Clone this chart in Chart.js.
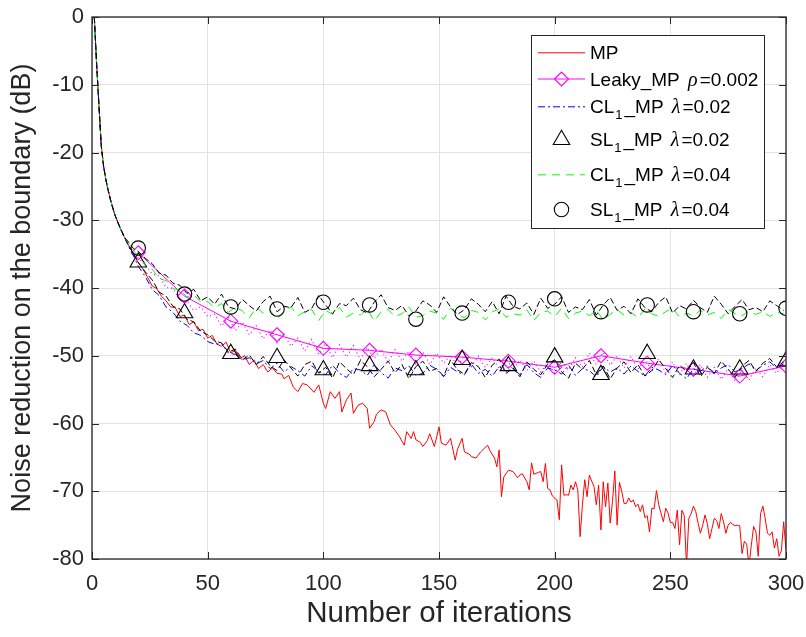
<!DOCTYPE html>
<html>
<head>
<meta charset="utf-8">
<script src="https://cdn.jsdelivr.net/npm/chart.js@4.4.1/dist/chart.umd.min.js"></script>
<style>
  html, body { margin: 0; padding: 0; background: #fff; }
  #wrap { width: 806px; height: 637px; }
</style>
</head>
<body>
<div id="wrap"><canvas id="nrChart" width="806" height="637"></canvas></div>
<script>
// iteration index of every sample (dense at the start, every 3rd after 20)
const ITER = [
    1, 2, 3, 4, 5, 6, 7, 8, 9, 10, 12, 14, 16, 18, 20,
    23, 26, 29, 32, 35, 38, 41, 44, 47, 50,
    53, 56, 59, 62, 65, 68, 71, 74, 77, 80,
    83, 86, 89, 92, 95, 98, 101, 104, 107, 110,
    113, 116, 119, 122, 125, 128, 131, 134, 137, 140,
    143, 146, 149, 152, 155, 158, 161, 164, 167, 170,
    173, 176, 179, 182, 185, 188, 191, 194, 197, 200,
    203, 206, 209, 212, 215, 218, 221, 224, 227, 230,
    233, 236, 239, 242, 245, 248, 251, 254, 257, 260,
    263, 266, 269, 272, 275, 278, 281, 284, 287, 290,
    293, 296, 299,
];
const MARK_ITER = [20, 40, 60, 80, 100, 120, 140, 160, 180, 200, 220, 240, 260, 280, 300];

const X_TICKS = [0, 50, 100, 150, 200, 250, 300];
const Y_TICKS = [-80, -70, -60, -50, -40, -30, -20, -10, 0];

// MP (red) has its own, denser sampling
const mpIter = [
    1, 2, 3, 4, 5, 6, 7, 8, 9, 10, 12, 14, 16, 18, 20,
    22, 24, 26, 28, 30, 32, 34, 36, 38, 40, 42, 44, 46, 48, 50,
    52, 54, 56, 58, 60, 62, 64, 66, 68, 70, 72, 74, 76, 78, 80,
    82, 83, 85, 87, 89, 91, 93, 96, 98, 100, 101, 103, 105, 107, 108, 110,
    112, 113, 115, 117, 119, 120, 122, 123, 125, 127, 129, 131, 133, 135, 136, 138, 139, 140,
    142, 143, 145, 146, 148, 150, 151, 153, 155, 157, 158, 160, 161, 163, 164, 166, 168,
    171, 172, 174, 175, 176, 177, 178, 180, 182, 184, 185, 186, 188, 189, 190,
    191, 193, 194, 195, 196, 197, 198, 199, 201, 202, 203, 204, 205, 206, 207, 208, 209, 210,
    211, 212, 213, 214, 215, 216, 217, 218, 219, 220, 221, 222, 223, 224, 225, 226, 227, 228, 229, 230,
    231, 232, 233, 234, 235, 236, 237, 238, 239, 240, 241, 242, 243, 244, 245, 246, 247, 248, 249, 250,
    251, 252, 253, 254, 255, 256, 257, 258, 259, 260, 261, 262, 263, 264, 265, 266, 267, 268, 269, 270,
    271, 272, 273, 274, 275, 276, 277, 278, 279, 280, 281, 282, 283, 284, 285, 286, 287, 288, 289, 290,
    291, 292, 293, 294, 295, 296, 297, 298, 299, 300,
];
const mpValues = [
    0, -7, -13, -19, -22, -24, -25.6, -27, -28.2, -29.3, -31, -32.5, -33.8, -35, -36.3,
    -37.2, -38.4, -39.7, -40.1, -41.2, -41.9, -42.8, -42.9, -44.2, -44.0, -45.4, -45.0, -46.3, -46.1, -47.4,
    -47.0, -48.3, -48.6, -48.0, -49.6, -49.2, -50.4, -50.0, -51.3, -50.6, -51.9, -51.3, -52.4, -51.8, -52.6,
    -52.7, -53.4, -52.9, -54.6, -55.3, -54.1, -54.3, -55.4, -54.3, -57.0, -57.8, -55.3, -56.3, -55.3, -58.3, -56.5,
    -55.5, -58.5, -57.3, -57.0, -57.8, -60.7, -59.7, -58.6, -58.0, -58.3, -60.2, -61.0, -62.0, -63.2, -61.2, -62.2, -61.2, -62.4,
    -62.8, -63.4, -62.5, -61.5, -63.4, -60.5, -62.9, -63.2, -62.2, -65.4, -63.8, -62.2, -64.2, -64.5, -64.9, -65.1, -64.2,
    -63.2, -64.0, -65.1, -66.4, -63.9, -70.8, -67.9, -66.9, -67.1, -68.0, -67.6, -67.4, -68.6, -69.8, -65.8,
    -67.5, -67.2, -67.1, -68.6, -65.9, -69.6, -69.8, -70.7, -71.3, -74.2, -66.1, -70.6, -70.5, -70.6, -69.1, -69.8, -68.6, -69.8,
    -76.7, -72.0, -68.3, -70.8, -67.6, -68.5, -69.3, -72.0, -69.1, -75.7, -68.6, -72.3, -68.8, -74.7, -71.5, -67.0, -75.0, -68.7, -70.0, -71.8,
    -71.8, -71.0, -71.6, -71.3, -72.3, -71.9, -73.0, -72.0, -73.9, -73.6, -76.0, -72.5, -72.6, -69.9, -72.0, -73.3, -74.5, -72.5, -73.2, -74.6,
    -74.6, -75.5, -72.8, -77.9, -72.8, -73.6, -81.0, -74.0, -73.3, -72.2, -73.0, -74.7, -76.2, -75.0, -73.5, -74.8, -77.0, -75.5, -74.0, -74.3,
    -75.5, -73.3, -74.5, -76.2, -75.0, -74.6, -74.9, -75.1, -75.0, -75.1, -79.2, -77.4, -77.8, -81.0, -78.0, -75.2, -76.0, -79.6, -73.3, -72.2,
    -74.0, -76.2, -76.5, -76.0, -78.4, -77.0, -79.6, -78.8, -74.5, -78.7,
];

// Leaky_MP rho=0.002, raw curve (dotted) and marked points
const leakyValues = [
    0, -7, -13, -19, -22, -24, -25.6, -27, -28.2, -29.3, -31, -32.5, -33.8, -34.8, -35.6,
    -36.5, -37.9, -38.2, -39.9, -40.1, -41.8, -41.9, -43.3, -42.8, -44.2,
    -43.9, -45.6, -44.4, -46.3, -45.0, -46.9, -45.6, -47.5, -46.2, -48.1,
    -46.8, -48.6, -47.4, -49.3, -47.6, -49.8, -48.2, -50.3, -48.4, -50.2,
    -48.5, -50.6, -48.8, -50.4, -49.0, -51.0, -49.1, -50.8, -49.3, -51.2,
    -49.4, -51.3, -49.6, -51.1, -49.9, -51.5, -50.0, -51.6, -50.1, -51.7,
    -50.3, -51.9, -50.4, -52.0, -50.6, -52.2, -50.8, -52.4, -51.0, -52.6,
    -50.8, -52.1, -50.3, -51.7, -49.6, -51.3, -49.5, -51.4, -50.0, -51.8,
    -50.1, -52.0, -50.4, -52.3, -50.5, -52.5, -50.9, -52.8, -51.1, -53.0,
    -51.3, -53.2, -51.7, -53.5, -51.9, -53.8, -52.1, -53.6, -51.8, -53.1,
    -51.3, -52.6, -51.0,
];
const leakyMarks = [-34.8, -41.2, -44.9, -46.9, -48.9, -49.2, -49.9, -50.2, -50.8, -51.7, -50.0, -51.1, -52.0, -53.0, -51.5];

// CL1_MP lambda=0.02 (blue)
const cl002Values = [
    0, -7, -13, -19, -22, -24, -25.6, -27, -28.2, -29.3, -31, -32.5, -34.0, -35.3, -36.8,
    -38.3, -40.2, -41.1, -42.8, -43.6, -44.9, -45.5, -46.6, -47.0, -47.9,
    -48.3, -48.2, -49.6, -49.8, -50.6, -50.3, -51.2, -50.7, -51.9, -51.1,
    -52.4, -51.6, -52.2, -53.0, -51.5, -52.3, -52.8, -51.4, -52.6, -53.2,
    -51.9, -52.1, -52.9, -51.3, -52.5, -53.3, -51.8, -52.2, -51.5, -52.9,
    -52.6, -51.4, -52.0, -53.1, -51.7, -52.4, -52.8, -51.2, -52.6, -52.0,
    -53.0, -51.6, -52.3, -51.9, -52.8, -51.3, -52.5, -53.2, -51.8, -52.1,
    -52.7, -51.4, -52.9, -51.9, -52.2, -53.1, -51.6, -52.4, -51.8, -52.7,
    -51.5, -52.3, -53.0, -51.7, -52.1, -52.8, -51.4, -52.6, -53.4, -51.9,
    -52.3, -51.5, -52.7, -51.8, -51.3, -52.4, -51.9, -51.2, -52.2, -51.4,
    -50.9, -51.8, -51.2,
];

// SL1_MP lambda=0.02 (black dashed + triangles)
const sl002Values = [
    0, -7, -13, -19, -22, -24, -25.6, -27, -28.2, -29.3, -31, -32.5, -33.8, -35.0, -36.2,
    -37.6, -38.8, -40.6, -41.2, -42.7, -43.1, -44.6, -45.0, -46.4, -46.9,
    -47.8, -48.1, -49.5, -49.0, -50.6, -49.9, -51.3, -50.1, -51.5, -52.2,
    -50.6, -51.8, -53.0, -51.3, -50.8, -52.6, -51.7, -53.3, -50.9, -51.9,
    -52.8, -50.7, -51.6, -53.1, -52.0, -50.8, -52.5, -51.3, -53.4, -51.6,
    -50.8, -52.3, -51.9, -53.0, -50.6, -52.1, -52.7, -51.0, -51.6, -53.2,
    -51.4, -50.5, -52.6, -51.8, -53.1, -50.9, -52.0, -52.8, -51.2, -50.6,
    -52.4, -53.3, -51.1, -52.0, -50.7, -52.8, -51.5, -53.4, -51.8, -50.9,
    -52.5, -51.3, -53.0, -52.2, -50.6, -51.9, -53.2, -51.4, -52.3, -51.0,
    -53.1, -51.7, -52.6, -50.8, -52.0, -53.2, -51.5, -50.7, -52.3, -51.1,
    -50.4, -51.7, -50.9,
];
const sl002Marks = [-36.2, -43.7, -49.7, -50.3, -52.1, -51.5, -52.1, -50.6, -51.5, -50.2, -52.8, -49.7, -52.0, -52.0, -50.8];

// CL1_MP lambda=0.04 (green)
const cl004Values = [
    0, -7, -13, -19, -22, -24, -25.6, -27, -28.2, -29.3, -31, -32.5, -33.5, -34.5, -35.3,
    -36.6, -37.2, -38.6, -38.9, -40.1, -40.3, -41.3, -41.0, -42.1, -42.0,
    -42.9, -42.3, -43.6, -42.8, -43.4, -44.4, -42.9, -43.7, -43.3, -44.6,
    -43.4, -42.8, -44.1, -43.5, -43.2, -44.8, -43.3, -43.9, -42.9, -44.3,
    -43.7, -44.0, -43.1, -44.9, -43.5, -43.2, -44.2, -43.8, -42.8, -44.3,
    -44.1, -43.4, -43.7, -44.6, -43.0, -43.9, -44.4, -43.3, -43.6, -44.7,
    -43.5, -43.1, -44.3, -43.8, -44.0, -43.2, -44.8, -43.6, -43.4, -44.2,
    -43.0, -44.5, -43.7, -43.4, -44.1, -43.3, -44.7, -43.9, -43.2, -44.0,
    -43.6, -44.4, -43.1, -43.8, -44.2, -43.5, -43.0, -44.3, -43.7, -44.1,
    -43.3, -44.0, -43.6, -44.5, -43.2, -43.8, -44.1, -43.4, -43.9, -43.5,
    -44.2, -43.6, -43.8,
];

// SL1_MP lambda=0.04 (black dashed + circles)
const sl004Values = [
    0, -7, -13, -19, -22, -24, -25.6, -27, -28.2, -29.3, -31, -32.5, -33.3, -34.2, -34.6,
    -35.6, -36.4, -37.8, -38.1, -39.3, -39.6, -40.8, -40.2, -41.9, -41.3,
    -42.4, -40.9, -42.8, -43.1, -41.7, -42.6, -43.4, -42.0, -41.2, -43.5,
    -42.7, -42.9, -41.4, -43.6, -43.0, -41.1, -42.5, -43.8, -42.3, -42.6,
    -41.5, -43.2, -43.7, -42.1, -41.0, -42.9, -43.3, -42.6, -44.1, -43.4,
    -41.9, -42.5, -43.6, -41.3, -42.8, -43.9, -43.2, -41.6, -42.4, -43.5,
    -42.0, -43.8, -41.2, -42.7, -43.1, -42.2, -43.9, -41.5, -43.0, -42.4,
    -41.3, -43.6, -42.8, -43.2, -41.7, -44.0, -42.5, -41.4, -43.3, -42.7,
    -43.8, -41.6, -42.9, -43.5, -42.1, -41.3, -43.7, -42.6, -43.1, -41.8,
    -42.9, -43.6, -41.2, -42.4, -43.8, -42.7, -41.7, -43.2, -42.9, -43.5,
    -41.9, -42.6, -43.3,
];
const sl004Marks = [-34.1, -40.9, -42.8, -43.1, -42.1, -42.5, -44.6, -43.7, -42.1, -41.6, -43.5, -42.5, -43.5, -43.8, -43.0];

// legend text pieces: [text, kind]
const LEGEND_TEXT = [
    [["MP"]],
    [["Leaky_MP "], ["ρ", "greek"], ["=0.002"]],
    [["CL"], ["1", "sub"], ["_MP "], ["λ", "greek"], ["=0.02"]],
    [["SL"], ["1", "sub"], ["_MP "], ["λ", "greek"], ["=0.02"]],
    [["CL"], ["1", "sub"], ["_MP "], ["λ", "greek"], ["=0.04"]],
    [["SL"], ["1", "sub"], ["_MP "], ["λ", "greek"], ["=0.04"]],
];

const FONT = "'Liberation Sans', Arial, Helvetica, sans-serif";
const SERIF = "'Liberation Serif', 'Times New Roman', serif";
const AXIS_COLOR = "#262626";

function points(xs, ys) {
    return ys.map((y, i) => ({ x: xs[i], y }));
}

function noisyLine(xs, values, color, dash, width = 1) {
    return {
        data: points(xs, values),
        borderColor: color,
        borderWidth: width,
        borderDash: dash,
        pointRadius: 0,
        fill: false,
        tension: 0,
    };
}

function markerSet(values, style, radius, color, showLine) {
    return {
        data: points(MARK_ITER, values),
        borderColor: color,
        borderWidth: 1,
        showLine,
        pointStyle: style,
        pointRadius: radius,
        pointBorderColor: color,
        pointBorderWidth: 1.1,
        pointBackgroundColor: "rgba(0,0,0,0)",
        fill: false,
        tension: 0,
    };
}

const datasets = [
    noisyLine(mpIter, mpValues, "#ff0000", []),
    noisyLine(ITER, leakyValues, "#ff00ff", [1, 3], 1.2),
    markerSet(leakyMarks, "rectRot", 7, "#ff00ff", true),
    noisyLine(ITER, cl002Values, "#0000ff", [7, 3, 2, 3]),
    noisyLine(ITER, sl002Values, "#000000", [6, 3]),
    markerSet(sl002Marks, "triangle", 9.5, "#000000", false),
    noisyLine(ITER, cl004Values, "#00ff00", [8, 6]),
    noisyLine(ITER, sl004Values, "#000000", [6, 3]),
    markerSet(sl004Marks, "circle", 7.2, "#000000", false),
];
// later datasets are drawn on top
datasets.forEach((ds, i) => { ds.order = datasets.length - i; });

// legend rows: which dataset gives the line sample and which the marker
const LEGEND_STYLE = [
    { line: 0, marker: null },
    { line: 2, marker: 2 },
    { line: 3, marker: null },
    { line: null, marker: 5 },
    { line: 6, marker: null },
    { line: null, marker: 8 },
];

// ── box, inward ticks ──
const frameTicks = {
    id: "frameTicks",
    afterDatasetsDraw(chart) {
        const { ctx, chartArea: a, scales: { x, y } } = chart;
        ctx.save();
        ctx.strokeStyle = AXIS_COLOR;
        ctx.lineWidth = 1;
        ctx.setLineDash([]);
        ctx.beginPath();
        X_TICKS.forEach((v) => {
            const px = Math.round(x.getPixelForValue(v)) + 0.5;
            ctx.moveTo(px, a.bottom);
            ctx.lineTo(px, a.bottom - 7);
            ctx.moveTo(px, a.top);
            ctx.lineTo(px, a.top + 7);
        });
        Y_TICKS.forEach((v) => {
            const py = Math.round(y.getPixelForValue(v)) + 0.5;
            ctx.moveTo(a.left, py);
            ctx.lineTo(a.left + 7, py);
            ctx.moveTo(a.right, py);
            ctx.lineTo(a.right - 7, py);
        });
        ctx.stroke();
        ctx.lineWidth = 1.3;
        ctx.strokeRect(a.left, a.top, a.right - a.left, a.bottom - a.top);
        ctx.restore();
    },
};

// ── legend with subscripts and greek letters ──
function drawRichText(ctx, parts, x, baseline) {
    parts.forEach(([text, kind]) => {
        let dy = 0;
        if (kind === "sub") {
            ctx.font = `13px ${FONT}`;
            dy = 6;
            x += 1;
        } else if (kind === "greek") {
            ctx.font = `italic 20px ${SERIF}`;
            x += 3;
        } else {
            ctx.font = `19px ${FONT}`;
        }
        ctx.fillText(text, x, baseline + dy);
        x += ctx.measureText(text).width + (kind === "sub" ? 2 : kind === "greek" ? 2 : 0);
    });
}

const richLegend = {
    id: "richLegend",
    afterDraw(chart) {
        const { ctx } = chart;
        const box = { left: 531, top: 35, width: 233, height: 193 };
        const baselines = [59.3, 85.5, 113.3, 146.3, 181.3, 216];
        ctx.save();
        ctx.fillStyle = "#ffffff";
        ctx.fillRect(box.left, box.top, box.width, box.height);
        ctx.strokeStyle = AXIS_COLOR;
        ctx.lineWidth = 1;
        ctx.strokeRect(box.left + 0.5, box.top + 0.5, box.width, box.height);

        LEGEND_TEXT.forEach((parts, i) => {
            const base = baselines[i];
            const yMid = base - 6.5;
            const style = LEGEND_STYLE[i];
            if (style.line !== null) {
                const ds = chart.data.datasets[style.line];
                ctx.strokeStyle = ds.borderColor;
                ctx.lineWidth = ds.borderWidth;
                ctx.setLineDash(ds.borderDash || []);
                ctx.beginPath();
                ctx.moveTo(538, yMid);
                ctx.lineTo(585, yMid);
                ctx.stroke();
                ctx.setLineDash([]);
            }
            if (style.marker !== null) {
                const ds = chart.data.datasets[style.marker];
                ctx.strokeStyle = ds.pointBorderColor;
                ctx.fillStyle = "rgba(0,0,0,0)";
                ctx.lineWidth = 1.1;
                Chart.helpers.drawPoint(ctx, {
                    pointStyle: ds.pointStyle,
                    radius: ds.pointRadius,
                    rotation: 0,
                    borderWidth: 1,
                }, 561.5, yMid);
            }
            ctx.fillStyle = "#000000";
            ctx.textBaseline = "alphabetic";
            ctx.textAlign = "left";
            drawRichText(ctx, parts, 590, base);
        });
        ctx.restore();
    },
};

new Chart(document.getElementById("nrChart"), {
    type: "line",
    data: { datasets },
    plugins: [frameTicks, richLegend],
    options: {
        responsive: false,
        animation: false,
        events: [],
        layout: { padding: { top: 17, right: 20, left: 0, bottom: 0 } },
        plugins: { legend: { display: false }, tooltip: { enabled: false } },
        scales: {
            x: {
                type: "linear",
                min: 0,
                max: 300,
                afterBuildTicks: (scale) => { scale.ticks = X_TICKS.map((v) => ({ value: v })); },
                afterFit: (scale) => {
                    scale.height = 78;
                    scale.paddingLeft = 0;
                    scale.paddingRight = 0;
                },
                ticks: { color: AXIS_COLOR, font: { family: FONT, size: 22 }, padding: 12, maxRotation: 0 },
                grid: { color: "#e3e3e3", drawTicks: false },
                border: { display: false },
                title: {
                    display: true,
                    text: "Number of iterations",
                    color: AXIS_COLOR,
                    font: { family: FONT, size: 29.5 },
                    padding: { top: 0, bottom: 5 },
                },
            },
            y: {
                type: "linear",
                min: -80,
                max: 0,
                afterBuildTicks: (scale) => { scale.ticks = Y_TICKS.map((v) => ({ value: v })); },
                afterFit: (scale) => {
                    scale.width = 92;
                    scale.paddingTop = 0;
                    scale.paddingBottom = 0;
                },
                ticks: { color: AXIS_COLOR, font: { family: FONT, size: 22 }, padding: 8 },
                grid: { color: "#e3e3e3", drawTicks: false },
                border: { display: false },
                title: {
                    display: true,
                    text: "Noise reduction on the boundary (dB)",
                    color: AXIS_COLOR,
                    font: { family: FONT, size: 27 },
                    padding: { top: 6, bottom: 0 },
                },
            },
        },
    },
});
</script>
</body>
</html>
